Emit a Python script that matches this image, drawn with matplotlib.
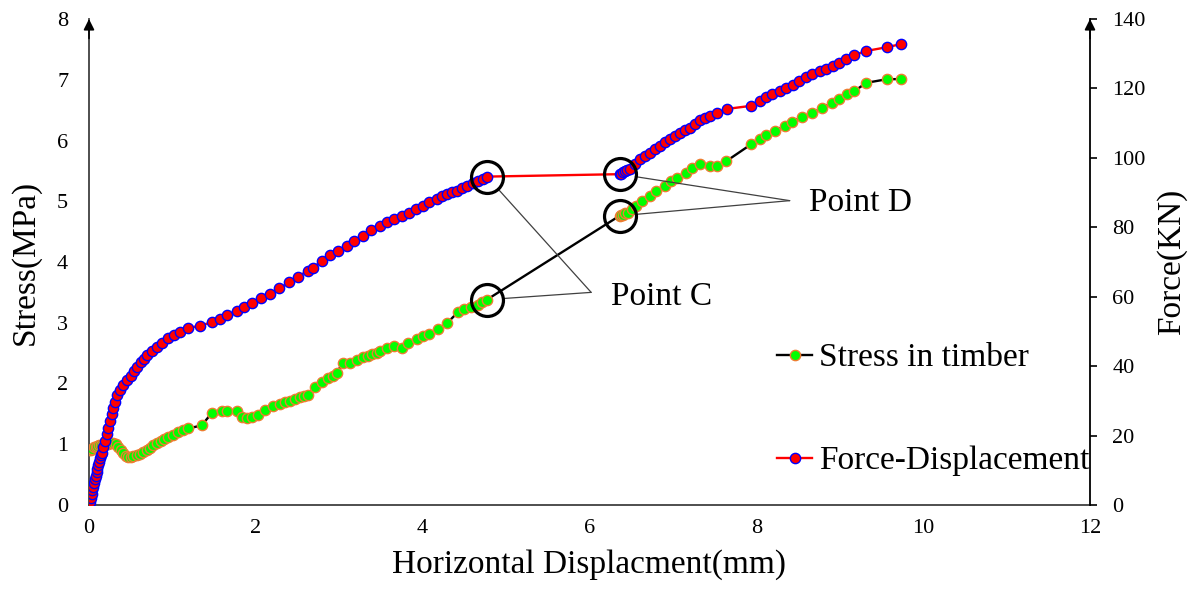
import matplotlib
matplotlib.use("Agg")
import matplotlib.pyplot as plt

plt.rcParams['font.family'] = ['Liberation Serif', 'DejaVu Serif']

# ---------------- data ----------------
force_x = [0.00, 0.01, 0.02, 0.03, 0.04, 0.05, 0.06, 0.07, 0.08, 0.09, 0.10, 0.11, 0.12, 0.13,
           0.14, 0.15, 0.17, 0.19, 0.21, 0.23, 0.25, 0.27, 0.29, 0.31, 0.34, 0.37, 0.41, 0.455,
           0.50, 0.54, 0.575, 0.62, 0.66, 0.695, 0.75, 0.81, 0.88, 0.95, 1.02, 1.09, 1.19, 1.33,
           1.47, 1.57, 1.66, 1.77, 1.86, 1.95, 2.06, 2.17, 2.28, 2.40, 2.51, 2.62, 2.68, 2.79,
           2.89, 2.99, 3.09, 3.18, 3.28, 3.38, 3.49, 3.57, 3.66, 3.75, 3.84, 3.92, 4.00, 4.08,
           4.17, 4.23, 4.29, 4.35, 4.41, 4.47, 4.53, 4.60, 4.66, 4.72, 4.77,
           6.36, 6.38, 6.40, 6.42, 6.45, 6.48, 6.54, 6.60, 6.66, 6.72, 6.78, 6.84, 6.90, 6.96,
           7.02, 7.08, 7.14, 7.20, 7.26, 7.32, 7.38, 7.44, 7.53, 7.65, 7.94, 8.04, 8.12, 8.19,
           8.28, 8.36, 8.44, 8.51, 8.59, 8.67, 8.76, 8.84, 8.92, 8.99, 9.08, 9.17, 9.32, 9.57, 9.74]
force_kn = [0.0, 1.0, 2.1, 3.1, 4.2, 5.3, 6.3, 7.4, 8.4, 9.4, 10.4, 11.4, 12.4, 13.4,
            14.3, 15.1, 16.7, 18.5, 20.4, 22.3, 24.2, 26.1, 28.0, 29.7, 31.7, 33.2, 34.7, 36.0,
            37.3, 38.6, 39.7, 41.2, 42.2, 43.1, 44.3, 45.4, 46.8, 48.0, 48.9, 49.7, 50.9, 51.7,
            52.6, 53.7, 54.6, 55.8, 56.9, 58.1, 59.5, 60.9, 62.4, 64.1, 65.8, 67.5, 68.4, 70.2,
            71.9, 73.3, 74.7, 76.1, 77.6, 79.1, 80.5, 81.5, 82.5, 83.3, 84.2, 85.2, 86.2, 87.2,
            88.2, 88.9, 89.7, 90.1, 90.5, 91.3, 92.0, 92.7, 93.4, 94.0, 94.6,
            95.3, 95.4, 95.8, 96.1, 96.5, 96.9, 98.3, 99.7, 100.6, 101.5, 102.5, 103.5, 104.5, 105.5,
            106.4, 107.2, 107.9, 108.6, 109.8, 110.9, 111.5, 112.1, 112.9, 114.1, 115.0, 116.4, 117.4, 118.4,
            119.2, 120.1, 121.1, 122.1, 123.2, 124.2, 124.9, 125.6, 126.4, 127.3, 128.5, 129.6, 130.8, 131.9, 132.8]

stress_x = [0.00, 0.02, 0.04, 0.06, 0.08, 0.10, 0.12, 0.14, 0.17, 0.20, 0.23, 0.26, 0.29, 0.32,
            0.35, 0.38, 0.41, 0.44, 0.47, 0.50, 0.53, 0.57, 0.61, 0.65, 0.69, 0.73, 0.77, 0.81,
            0.86, 0.90, 0.95, 1.01, 1.07, 1.13, 1.19, 1.35, 1.47, 1.59, 1.66, 1.77, 1.84, 1.90,
            1.95, 2.02, 2.11, 2.20, 2.29, 2.35, 2.41, 2.47, 2.53, 2.58, 2.62, 2.71, 2.79, 2.86,
            2.92, 2.97, 3.04, 3.13, 3.21, 3.28, 3.34, 3.39, 3.45, 3.49, 3.57, 3.66, 3.75, 3.82,
            3.93, 4.00, 4.08, 4.18, 4.29, 4.42, 4.50, 4.58, 4.66, 4.71, 4.77,
            6.36, 6.38, 6.40, 6.43, 6.46, 6.51, 6.56, 6.63, 6.72, 6.80, 6.90, 6.98, 7.05, 7.16,
            7.23, 7.32, 7.44, 7.53, 7.64, 7.94, 8.04, 8.12, 8.22, 8.34, 8.43, 8.55, 8.67, 8.79,
            8.91, 8.99, 9.09, 9.17, 9.32, 9.57, 9.74]
stress_mpa = [0.90, 0.91, 0.93, 0.95, 0.96, 0.97, 0.98, 0.99, 0.99, 1.00, 1.01, 1.02, 1.02, 1.00,
              0.95, 0.90, 0.85, 0.81, 0.79, 0.79, 0.80, 0.82, 0.84, 0.87, 0.90, 0.94, 0.98, 1.02,
              1.06, 1.09, 1.12, 1.16, 1.20, 1.23, 1.26, 1.31, 1.51, 1.54, 1.54, 1.54, 1.45, 1.44,
              1.45, 1.48, 1.56, 1.63, 1.67, 1.70, 1.72, 1.74, 1.77, 1.79, 1.81, 1.94, 2.02, 2.09,
              2.13, 2.18, 2.33, 2.33, 2.38, 2.43, 2.46, 2.48, 2.50, 2.53, 2.58, 2.61, 2.59, 2.66,
              2.74, 2.78, 2.82, 2.89, 2.99, 3.17, 3.23, 3.26, 3.30, 3.34, 3.38,
              4.76, 4.77, 4.78, 4.80, 4.81, 4.87, 4.93, 5.01, 5.09, 5.17, 5.25, 5.34, 5.39, 5.47,
              5.55, 5.62, 5.58, 5.58, 5.66, 5.94, 6.03, 6.09, 6.16, 6.24, 6.31, 6.39, 6.45, 6.54,
              6.62, 6.68, 6.77, 6.81, 6.95, 7.01, 7.01]

x_ticks = [0, 2, 4, 6, 8, 10, 12]
stress_ticks = [0, 1, 2, 3, 4, 5, 6, 7, 8]
force_ticks = [0, 20, 40, 60, 80, 100, 120, 140]

# index of last point before gap (Point C); the next one is Point D
gap_idx_force = force_x.index(4.77)
gap_idx_stress = stress_x.index(4.77)

# ---------------- figure ----------------
W, H = 1192, 590
fig = plt.figure(figsize=(W / 100, H / 100), dpi=100)
fig.subplots_adjust(left=89 / W, right=1090 / W, bottom=1 - 505 / H, top=1 - 19 / H)
ax = fig.add_subplot(111)
ax2 = ax.twinx()

fs = 24
tfs = 16

l_stress, = ax.plot(stress_x, stress_mpa, color='black', lw=1.7, marker='o', ms=7.4,
                    mfc='#00FF00', mec='#ED7D31', mew=1.0, label='Stress in timber', zorder=3)
l_force, = ax2.plot(force_x, force_kn, color='#FF0000', lw=1.7, marker='o', ms=7.4,
                    mfc='#FF0000', mec='#0000FF', mew=1.0, label='Force-Displacement', zorder=3)

ax.set_xlim(x_ticks[0], x_ticks[-1])
ax.set_ylim(stress_ticks[0], stress_ticks[-1])
ax2.set_ylim(force_ticks[0], force_ticks[-1])
ax.set_xticks(x_ticks)
ax.set_yticks(stress_ticks)
ax2.set_yticks(force_ticks)

for a in (ax, ax2):
    a.spines['top'].set_visible(False)
ax2.spines['left'].set_visible(False)
ax.spines['right'].set_visible(False)
for s in ('left', 'bottom'):
    ax.spines[s].set_linewidth(1.3)
    ax.spines[s].set_color('#404040')
ax2.spines['right'].set_linewidth(1.3)
ax2.spines['bottom'].set_visible(False)

ax.tick_params(axis='x', length=0, pad=10, labelsize=tfs)
ax.tick_params(axis='y', length=0, pad=15, labelsize=tfs)
ax2.tick_params(axis='y', length=5, width=1.2, direction='out', pad=11, labelsize=tfs)

ax.set_xlabel('Horizontal Displacment(mm)', fontsize=fs, labelpad=8)
ax.set_ylabel('Stress(MPa)', fontsize=fs, labelpad=12)
ax2.set_ylabel('Force(KN)', fontsize=fs, labelpad=8)

# arrow heads on vertical axes
for xa in (0, 1):
    ax.annotate('', xy=(xa, 1.0), xycoords='axes fraction',
                xytext=(xa, 0.96), textcoords='axes fraction',
                arrowprops=dict(arrowstyle='-|>', color='black', lw=1.2,
                                mutation_scale=16, shrinkA=0, shrinkB=0))

# circles at Point C and Point D
circ = dict(marker='o', ms=23, mfc='none', mec='black', mew=2.3, ls='none', zorder=5)
ax2.plot([force_x[gap_idx_force], force_x[gap_idx_force + 1]],
         [force_kn[gap_idx_force], force_kn[gap_idx_force + 1]], **circ)
ax.plot([stress_x[gap_idx_stress], stress_x[gap_idx_stress + 1]],
        [stress_mpa[gap_idx_stress], stress_mpa[gap_idx_stress + 1]], **circ)

# leader lines and labels
C_meet = (6.02, 3.50)
D_meet = (8.40, 5.01)
lprops = dict(arrowstyle='-', color='#404040', lw=0.9, shrinkA=0, shrinkB=11.5)
ax2.annotate('', xy=(force_x[gap_idx_force], force_kn[gap_idx_force]), xycoords=ax2.transData,
             xytext=C_meet, textcoords=ax.transData, arrowprops=lprops)
ax.annotate('', xy=(stress_x[gap_idx_stress], stress_mpa[gap_idx_stress]),
            xytext=C_meet, arrowprops=lprops)
ax2.annotate('', xy=(force_x[gap_idx_force + 1], force_kn[gap_idx_force + 1]), xycoords=ax2.transData,
             xytext=D_meet, textcoords=ax.transData, arrowprops=lprops)
ax.annotate('', xy=(stress_x[gap_idx_stress + 1], stress_mpa[gap_idx_stress + 1]),
            xytext=D_meet, arrowprops=lprops)
ax.text(C_meet[0] + 0.24, C_meet[1] - 0.08, 'Point C', fontsize=fs, ha='left', va='center')
ax.text(D_meet[0] + 0.23, D_meet[1] - 0.03, 'Point D', fontsize=fs, ha='left', va='center')

leg = ax2.legend(handles=[l_stress, l_force], loc='upper left',
                 bbox_to_anchor=(777 / W, 1 - 343 / H), bbox_transform=fig.transFigure,
                 frameon=False, fontsize=fs, handlelength=1.05, handletextpad=0.2,
                 labelspacing=2.17, borderpad=0, borderaxespad=0, numpoints=1)

fig.savefig('out.png', dpi=100)
